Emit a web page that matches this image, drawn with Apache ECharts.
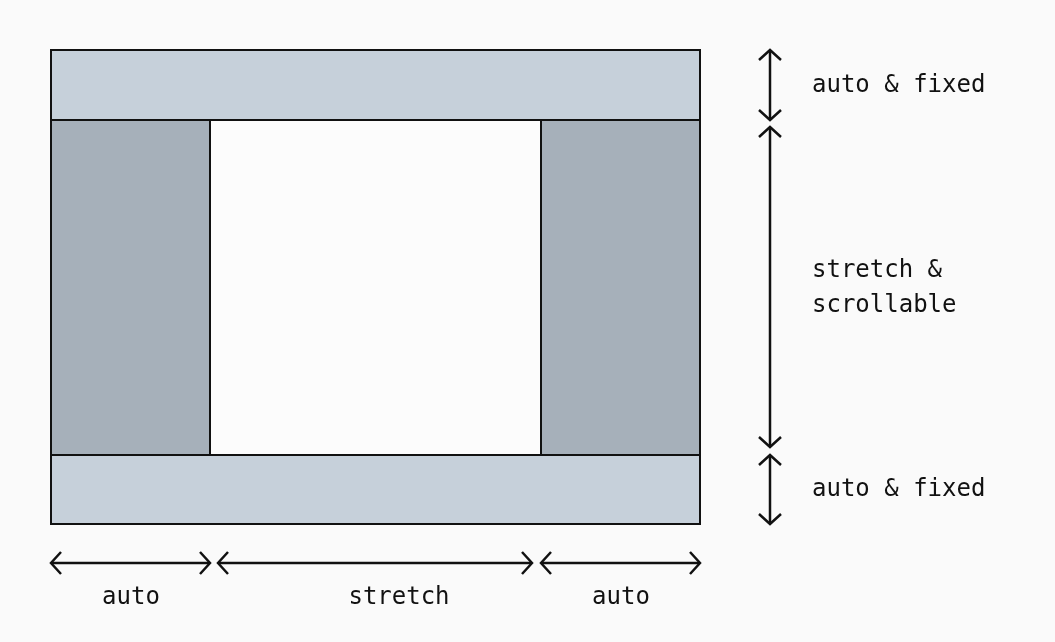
<!DOCTYPE html>
<html>
<head>
<meta charset="utf-8">
<script src="https://cdn.jsdelivr.net/npm/echarts@6/dist/echarts.min.js"></script>
<style>
html, body { margin: 0; padding: 0; background: #fafafa; }
#chart { width: 1055px; height: 642px; }
</style>
</head>
<body>
<div id="chart"></div>
<script>
// boxes: [x0, y0, x1, y1, kind]
const boxes = [
  [51, 50, 700, 120, 'bar'],
  [51, 120, 210, 455, 'side'],
  [210, 120, 541, 455, 'main'],
  [541, 120, 700, 455, 'side'],
  [51, 455, 700, 524, 'bar']
];
// arrows: [x0, y0, x1, y1]
const arrows = [
  [770, 50, 770, 120],
  [770, 127, 770, 447],
  [770, 455, 770, 524],
  [51, 563, 210, 563],
  [218, 563, 532, 563],
  [541, 563, 700, 563]
];
// labels: [x, y, text]
const labels = [
  [812, 86, 'auto & fixed'],
  [812, 271, 'stretch &'],
  [812, 306, 'scrollable'],
  [812, 490, 'auto & fixed'],
  [131, 598, 'auto'],
  [399, 598, 'stretch'],
  [621, 598, 'auto']
];

const fills = { bar: '#c6d0da', side: '#a6b0ba', main: '#fcfcfc' };
const chart = echarts.init(document.getElementById('chart'));

chart.setOption({
  backgroundColor: '#fafafa',
  animation: false,
  grid: { left: 0, right: 0, top: 0, bottom: 0 },
  xAxis: { type: 'value', min: 0, max: 1055, show: false },
  yAxis: { type: 'value', min: 0, max: 642, inverse: true, show: false },
  series: [
    {
      type: 'custom',
      data: boxes,
      renderItem: (params, api) => {
        const b = boxes[params.dataIndex];
        const p0 = api.coord([b[0], b[1]]);
        const p1 = api.coord([b[2], b[3]]);
        return {
          type: 'rect',
          shape: { x: p0[0], y: p0[1], width: p1[0] - p0[0], height: p1[1] - p0[1] },
          style: { fill: fills[b[4]], stroke: '#111', lineWidth: 2 }
        };
      }
    },
    {
      type: 'custom',
      data: arrows,
      renderItem: (params, api) => {
        const a = arrows[params.dataIndex];
        const p0 = api.coord([a[0], a[1]]);
        const p1 = api.coord([a[2], a[3]]);
        const vert = a[0] === a[2];
        const h = 10, w = 11;
        const style = { stroke: '#111', lineWidth: 2.5, fill: 'none' };
        let head0, head1;
        if (vert) {
          head0 = [[p0[0] - w, p0[1] + h], [p0[0], p0[1]], [p0[0] + w, p0[1] + h]];
          head1 = [[p1[0] - w, p1[1] - h], [p1[0], p1[1]], [p1[0] + w, p1[1] - h]];
        } else {
          head0 = [[p0[0] + h, p0[1] - w], [p0[0], p0[1]], [p0[0] + h, p0[1] + w]];
          head1 = [[p1[0] - h, p1[1] - w], [p1[0], p1[1]], [p1[0] - h, p1[1] + w]];
        }
        return {
          type: 'group',
          children: [
            { type: 'line', shape: { x1: p0[0], y1: p0[1], x2: p1[0], y2: p1[1] }, style },
            { type: 'polyline', shape: { points: head0 }, style },
            { type: 'polyline', shape: { points: head1 }, style }
          ]
        };
      }
    },
    {
      type: 'custom',
      data: labels,
      renderItem: (params, api) => {
        const l = labels[params.dataIndex];
        const p = api.coord([l[0], l[1]]);
        const left = l[0] > 750;
        return {
          type: 'text',
          x: p[0], y: p[1],
          style: {
            text: l[2], fill: '#111',
            font: '24px "DejaVu Sans Mono", monospace',
            align: left ? 'left' : 'center', verticalAlign: 'middle'
          }
        };
      }
    }
  ]
});
</script>
</body>
</html>
